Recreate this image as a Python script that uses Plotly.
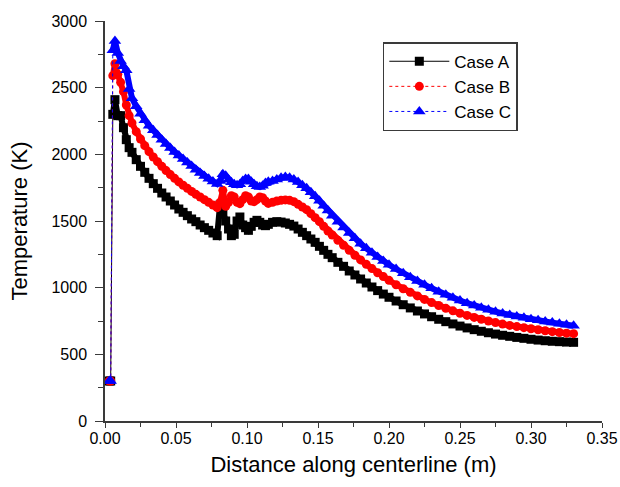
import plotly.graph_objects as go

x_m = [0.003, 0.004, 0.0055, 0.007, 0.009, 0.011, 0.013, 0.015, 0.017, 0.019,
       0.022, 0.025, 0.028, 0.031, 0.034, 0.037, 0.040, 0.043, 0.046, 0.049,
       0.052, 0.055, 0.058, 0.061, 0.064, 0.067, 0.070, 0.073, 0.076, 0.079,
       0.081, 0.083, 0.085, 0.087, 0.089, 0.091, 0.093, 0.095, 0.097, 0.099,
       0.101, 0.103, 0.105, 0.107, 0.109, 0.111, 0.113, 0.115, 0.118, 0.121,
       0.124, 0.127, 0.130, 0.133, 0.136, 0.139, 0.142, 0.145, 0.148, 0.151,
       0.154, 0.157, 0.160, 0.164, 0.168, 0.172, 0.176, 0.180, 0.184, 0.188,
       0.192, 0.196, 0.200, 0.205, 0.210, 0.215, 0.220, 0.225, 0.230, 0.235,
       0.240, 0.245, 0.250, 0.255, 0.260, 0.265, 0.270, 0.275, 0.280, 0.285,
       0.290, 0.295, 0.300, 0.305, 0.310, 0.315, 0.320, 0.325, 0.330]

case_a = [300, 300, 2300, 2410, 2290, 2290, 2200, 2110, 2050, 2015,
          1960, 1910, 1865, 1820, 1780, 1745, 1710, 1680, 1650, 1620,
          1590, 1565, 1540, 1515, 1495, 1470, 1450, 1430, 1410, 1390,
          1620, 1560, 1500, 1440, 1390, 1400, 1500, 1530, 1470, 1450,
          1430, 1460, 1490, 1505, 1490, 1470, 1465, 1475, 1490, 1495,
          1492, 1485, 1475, 1462, 1440, 1415, 1390, 1365, 1340, 1310,
          1280, 1250, 1225, 1190, 1160, 1125, 1095, 1065, 1035, 1005,
          978, 952, 928, 900, 872, 848, 825, 803, 782, 763,
          745, 728, 712, 698, 685, 673, 662, 652, 643, 635,
          627, 620, 613, 607, 602, 598, 595, 592, 590]

case_b = [300, 300, 2590, 2680, 2600, 2540, 2470, 2370, 2290, 2235,
          2170, 2115, 2065, 2020, 1980, 1945, 1910, 1878, 1848, 1820,
          1793, 1768, 1745, 1722, 1700, 1680, 1660, 1640, 1620, 1600,
          1640, 1730, 1610, 1640, 1690, 1680, 1640, 1630, 1660, 1690,
          1680, 1650, 1645, 1660, 1680, 1675, 1650, 1632, 1640, 1650,
          1655, 1658, 1655, 1645, 1625, 1605, 1585, 1555, 1525, 1495,
          1460, 1425, 1395, 1355, 1318, 1280, 1243, 1208, 1175, 1143,
          1112, 1083, 1055, 1022, 992, 965, 938, 912, 888, 866,
          845, 826, 808, 792, 777, 763, 750, 738, 727, 717,
          708, 700, 692, 684, 677, 670, 664, 659, 655]

case_c = [300, 300, 2780, 2850, 2760, 2700, 2660, 2630, 2490, 2420,
          2360, 2305, 2255, 2215, 2180, 2145, 2110, 2078, 2047, 2018,
          1992, 1965, 1938, 1912, 1885, 1860, 1838, 1817, 1797, 1778,
          1800, 1850, 1840, 1810, 1790, 1775, 1768, 1775, 1800, 1815,
          1815, 1795, 1775, 1760, 1755, 1765, 1785, 1795, 1800, 1812,
          1825, 1830, 1825, 1812, 1792, 1768, 1745, 1715, 1685, 1652,
          1615, 1578, 1540, 1495, 1452, 1410, 1370, 1330, 1295, 1262,
          1230, 1200, 1172, 1140, 1108, 1078, 1050, 1022, 995, 970,
          946, 924, 903, 884, 866, 849, 834, 820, 807, 795,
          784, 774, 764, 755, 746, 738, 730, 722, 715]

series = [
    ("Case A", case_a, "black", "solid", "square", 9),
    ("Case B", case_b, "red", "dot", "circle", 9),
    ("Case C", case_c, "blue", "dot", "triangle-up", 11),
]

FONT = "Liberation Sans, Arial, sans-serif"
AX = "#3a3a3a"

fig = go.Figure()
for name, vals, color, dash, symbol, size in series:
    # dense marker band (thick underlay, skipping the cold start points)
    fig.add_trace(go.Scatter(
        x=x_m[2:], y=vals[2:], mode="lines", showlegend=False, hoverinfo="skip",
        line=dict(color=color, width=6),
    ))
    fig.add_trace(go.Scatter(
        x=x_m, y=vals, name=name, mode="lines+markers",
        line=dict(color=color, width=1, dash=dash),
        marker=dict(symbol=symbol, size=size, color=color, line=dict(width=0)),
    ))

tick_font = dict(family=FONT, size=16, color="black")
fig.update_layout(
    width=620, height=487,
    margin=dict(l=105, r=18, t=21, b=66),
    paper_bgcolor="white", plot_bgcolor="white",
    font=tick_font,
    showlegend=True,
    legend=dict(
        x=0.559, y=0.947, xanchor="left", yanchor="top",
        bordercolor=AX, borderwidth=1.5, bgcolor="white",
        font=dict(family=FONT, size=17, color="black"),
        itemwidth=60, tracegroupgap=0,
    ),
)
fig.update_xaxes(
    range=[0, 0.35], dtick=0.05, tickformat=".2f", automargin=False,
    showline=True, linecolor=AX, linewidth=1.5,
    ticks="outside", ticklen=5, tickcolor=AX, tickwidth=1.2,
    minor=dict(dtick=0.025, ticks="outside", ticklen=4, tickcolor=AX, tickwidth=1),
    showgrid=False, zeroline=False, ticklabelstandoff=-3,
    title=dict(text="Distance along centerline (m)",
               font=dict(family=FONT, size=22, color="black"), standoff=11),
    tickfont=tick_font,
)
fig.update_yaxes(
    range=[0, 3000], dtick=500, automargin=False,
    showline=True, linecolor=AX, linewidth=1.5,
    ticks="outside", ticklen=8, tickcolor=AX, tickwidth=1.2,
    minor=dict(dtick=250, ticks="outside", ticklen=5, tickcolor=AX, tickwidth=1),
    showgrid=False, zeroline=False, ticklabelstandoff=5,
    title=dict(text="Temperature (K)",
               font=dict(family=FONT, size=22, color="black"), standoff=18),
    tickfont=tick_font,
)

fig.write_html("out.html",
               config={"displayModeBar": False},
               post_script="document.body.style.margin='0';document.body.style.overflow='hidden';")
